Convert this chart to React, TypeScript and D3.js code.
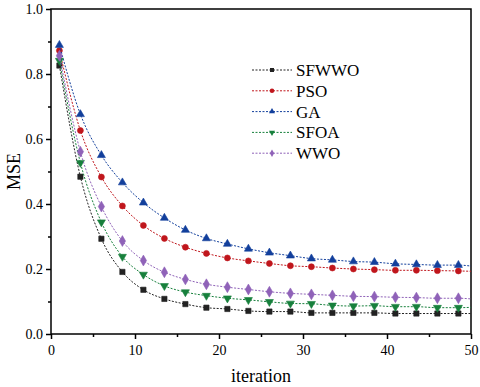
import React, { useEffect, useRef } from "react";
import * as d3 from "d3";

// iteration positions where the curves were read (markers every 2.5 iterations, end at 50)
const iterations = [1, 3.5, 6, 8.5, 11, 13.5, 16, 18.5, 21, 23.5, 26, 28.5, 31, 33.5, 36, 38.5, 41, 43.5, 46, 48.5, 50];

const sfwwo = [0.826, 0.484, 0.293, 0.191, 0.136, 0.108, 0.092, 0.081, 0.077, 0.071, 0.069, 0.069, 0.065, 0.065, 0.065, 0.065, 0.063, 0.063, 0.063, 0.063, 0.063];
const pso = [0.872, 0.626, 0.483, 0.394, 0.334, 0.294, 0.267, 0.248, 0.234, 0.225, 0.217, 0.21, 0.207, 0.203, 0.2, 0.198, 0.196, 0.196, 0.195, 0.194, 0.193];
const ga = [0.889, 0.676, 0.55, 0.466, 0.404, 0.357, 0.32, 0.294, 0.277, 0.262, 0.25, 0.241, 0.232, 0.228, 0.223, 0.221, 0.216, 0.214, 0.212, 0.212, 0.209];
const sfoa = [0.841, 0.527, 0.344, 0.238, 0.183, 0.148, 0.129, 0.118, 0.11, 0.105, 0.099, 0.094, 0.093, 0.088, 0.086, 0.087, 0.084, 0.084, 0.081, 0.081, 0.082];
const wwo = [0.856, 0.561, 0.392, 0.286, 0.226, 0.19, 0.168, 0.153, 0.144, 0.137, 0.13, 0.125, 0.122, 0.119, 0.116, 0.115, 0.113, 0.112, 0.11, 0.11, 0.108];

const seriesNames = ["SFWWO", "PSO", "GA", "SFOA", "WWO"];
const seriesValues = [sfwwo, pso, ga, sfoa, wwo];
const colors = ["#222222", "#c0161c", "#123f9c", "#17803c", "#8f62b8"];
const symbols = [d3.symbolSquare, d3.symbolCircle, d3.symbolTriangle, d3.symbolTriangle, d3.symbolDiamond];

const xTicks = [0, 10, 20, 30, 40, 50];
const yTicks = [0, 0.2, 0.4, 0.6, 0.8, 1.0];

function App() {
  const ref = useRef<SVGSVGElement>(null);

  useEffect(() => {
    const svg = d3.select(ref.current);
    svg.selectAll("*").remove();

    const left = 51, right = 471, top = 9, bottom = 334;
    const font = "'Liberation Serif', 'Times New Roman', serif";

    const x = d3.scaleLinear().domain([0, 50]).range([left, right]);
    const y = d3.scaleLinear().domain([0, 1]).range([bottom, top]);

    // frame
    svg.append("rect")
      .attr("x", left).attr("y", top)
      .attr("width", right - left).attr("height", bottom - top)
      .attr("fill", "none").attr("stroke", "#000").attr("stroke-width", 1.5);

    // bottom axis
    const xAxis = svg.append("g")
      .attr("transform", `translate(0,${bottom})`)
      .call(d3.axisBottom(x).tickValues(xTicks).tickSize(5).tickFormat(d3.format("d")));
    xAxis.select(".domain").remove();
    xAxis.selectAll("line").attr("stroke-width", 1.5);
    xAxis.selectAll("text").attr("font-family", font).attr("font-size", 14).attr("fill", "#000").attr("dy", "0.95em");

    const xMinor = svg.append("g")
      .attr("transform", `translate(0,${bottom})`)
      .call(d3.axisBottom(x).tickValues([5, 15, 25, 35, 45]).tickSize(3).tickFormat(() => ""));
    xMinor.select(".domain").remove();
    xMinor.selectAll("line").attr("stroke-width", 1.5);

    // left axis
    const yAxis = svg.append("g")
      .attr("transform", `translate(${left},0)`)
      .call(d3.axisLeft(y).tickValues(yTicks).tickSize(5).tickFormat(d3.format(".1f")));
    yAxis.select(".domain").remove();
    yAxis.selectAll("line").attr("stroke-width", 1.5);
    yAxis.selectAll("text").attr("font-family", font).attr("font-size", 14).attr("fill", "#000");

    const yMinor = svg.append("g")
      .attr("transform", `translate(${left},0)`)
      .call(d3.axisLeft(y).tickValues([0.1, 0.3, 0.5, 0.7, 0.9]).tickSize(3).tickFormat(() => ""));
    yMinor.select(".domain").remove();
    yMinor.selectAll("line").attr("stroke-width", 1.5);

    // axis titles
    svg.append("text")
      .attr("x", (left + right) / 2).attr("y", 382)
      .attr("text-anchor", "middle")
      .attr("font-family", font).attr("font-size", 18)
      .text("iteration");

    svg.append("text")
      .attr("transform", `translate(20,${(top + bottom) / 2}) rotate(-90)`)
      .attr("text-anchor", "middle")
      .attr("font-family", font).attr("font-size", 18)
      .text("MSE");

    const line = d3.line<number>()
      .x((d, i) => x(iterations[i]))
      .y((d) => y(d))
      .curve(d3.curveMonotoneX);

    seriesValues.forEach((vals, s) => {
      svg.append("path")
        .attr("d", line(vals))
        .attr("fill", "none")
        .attr("stroke", colors[s])
        .attr("stroke-width", 1)
        .attr("stroke-dasharray", "2,1.5");

      const rot = s === 3 ? 180 : 0;
      svg.selectAll(null)
        .data(vals.filter((d, i) => iterations[i] < 50))
        .enter()
        .append("path")
        .attr("d", d3.symbol().type(symbols[s]).size(s === 4 ? 34 : 28)())
        .attr("transform", (d, i) => `translate(${x(iterations[i])},${y(d)}) rotate(${rot})`)
        .attr("fill", colors[s])
        .attr("stroke", colors[s])
        .attr("stroke-width", 0.6);
    });

    // legend
    const lg = svg.append("g");
    seriesNames.forEach((name, s) => {
      const ly = 70 + s * 20.8;
      lg.append("line")
        .attr("x1", 252).attr("x2", 292).attr("y1", ly).attr("y2", ly)
        .attr("stroke", colors[s]).attr("stroke-width", 1)
        .attr("stroke-dasharray", "2,1.5");
      lg.append("path")
        .attr("d", d3.symbol().type(symbols[s]).size(16)())
        .attr("transform", `translate(272,${ly}) rotate(${s === 3 ? 180 : 0})`)
        .attr("fill", colors[s]);
      lg.append("text")
        .attr("x", 296).attr("y", ly)
        .attr("dy", "0.35em")
        .attr("font-family", font).attr("font-size", 17)
        .text(name);
    });
  }, []);

  return (
    <svg ref={ref} width={480} height={387} style={{ position: "absolute", left: 0, top: 0, background: "#fff" }} />
  );
}

export default App;
